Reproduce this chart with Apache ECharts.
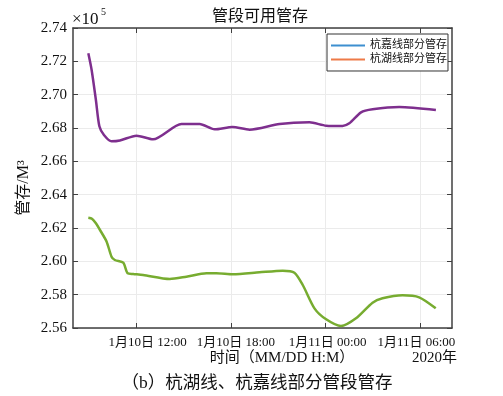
<!DOCTYPE html>
<html>
<head>
<meta charset="utf-8">
<script src="https://cdn.jsdelivr.net/npm/echarts@6/dist/echarts.min.js"></script>
<style>
  html, body { margin: 0; padding: 0; background: #fff; }
  #chart { width: 503px; height: 396px; }
</style>
</head>
<body>
<div id="chart"></div>
<script>
// hours counted from 1/10 00:00, values in 10^5 M3
var upperHours = [8.97, 9.18, 9.45, 9.67, 9.96, 10.44, 10.97, 12.02, 13.07, 14.87, 16.02, 16.97, 18.1, 19.18, 21.08, 22.97, 24.03, 25.07, 25.5, 26.24, 26.97, 28.66, 30.98];
var upperStock = [2.7248, 2.7148, 2.6968, 2.6810, 2.6758, 2.6720, 2.6725, 2.6754, 2.6732, 2.6824, 2.6824, 2.6792, 2.6806, 2.6790, 2.6824, 2.6834, 2.6814, 2.6812, 2.6828, 2.6894, 2.6912, 2.6926, 2.6908];

var lowerHours = [8.97, 9.2, 9.45, 9.71, 10.13, 10.44, 10.65, 11.18, 11.46, 11.81, 12.44, 14.13, 15.18, 16.45, 17.08, 18.13, 19.81, 21.28, 22.02, 22.55, 23.29, 24.03, 24.97, 25.92, 26.97, 27.6, 28.87, 29.92, 30.97];
var lowerStock = [2.6262, 2.6256, 2.6228, 2.6188, 2.6118, 2.6028, 2.6008, 2.5992, 2.5928, 2.5924, 2.5918, 2.5894, 2.5908, 2.5928, 2.5928, 2.5922, 2.5934, 2.5944, 2.5932, 2.5858, 2.5718, 2.5652, 2.5612, 2.5658, 2.5752, 2.5778, 2.5796, 2.5784, 2.5718];

var xTickHours = [12, 18, 24, 30];
var xTickLabels = ['1月10日 12:00', '1月10日 18:00', '1月11日 00:00', '1月11日 06:00'];
var legendNames = ['杭嘉线部分管存', '杭湖线部分管存'];
var legendColors = ['#3d8fd0', '#ee7a48'];

var font = "'Liberation Serif', 'Noto Sans CJK SC', serif";
var axisColor = '#404040';

function pairs(xs, ys) {
  var out = [];
  for (var i = 0; i < xs.length; i++) out.push([xs[i], ys[i]]);
  return out;
}

var chart = echarts.init(document.getElementById('chart'), null, {renderer: 'canvas'});

var labelRich = {};
var labelPads = [[0, 0, 0, 23], [0, 0, 0, 10], [0, 0, 0, 4], [0, 8, 0, 0]];
labelPads.forEach(function(p, i) {
  labelRich['p' + i] = {padding: p, fontFamily: font, fontSize: 13, color: '#111'};
});

var xBase = {
  type: 'value',
  min: 8,
  max: 32,
  axisLine: {show: true, onZero: false, lineStyle: {color: axisColor, width: 1.5}},
  axisTick: {show: true, inside: true, length: 5, customValues: xTickHours, lineStyle: {color: axisColor}},
  axisLabel: {
    show: true,
    customValues: xTickHours,
    margin: 8,
    color: '#111',
    fontFamily: font,
    fontSize: 13,
    rich: labelRich,
    formatter: function(v) {
      var i = xTickHours.indexOf(v);
      return i >= 0 ? '{p' + i + '|' + xTickLabels[i] + '}' : '';
    }
  },
  splitLine: {show: true, lineStyle: {color: '#ebebeb', width: 1}}
};

var yBase = {
  type: 'value',
  min: 2.56,
  max: 2.74,
  interval: 0.02,
  axisLine: {show: true, onZero: false, lineStyle: {color: axisColor, width: 1.5}},
  axisTick: {show: true, inside: true, length: 5, lineStyle: {color: axisColor}},
  axisLabel: {
    color: '#111',
    fontFamily: font,
    fontSize: 15,
    margin: 6,
    formatter: function(v) { return v.toFixed(2); }
  },
  splitLine: {show: true, lineStyle: {color: '#ebebeb', width: 1}}
};

var option = {
  animation: false,
  backgroundColor: '#fff',
  grid: {left: 73, right: 51, top: 28, bottom: 68, containLabel: false},
  xAxis: [
    xBase,
    echarts.util.merge({position: 'top', axisLabel: {show: false}, splitLine: {show: false}}, xBase)
  ],
  yAxis: [
    yBase,
    echarts.util.merge({position: 'right', axisLabel: {show: false}, splitLine: {show: false}}, yBase)
  ],
  legend: {
    data: legendNames,
    orient: 'vertical',
    left: 327,
    top: 34,
    padding: [6, 1, 6, 4],
    icon: 'rect',
    itemWidth: 34,
    itemHeight: 2,
    itemGap: 3,
    borderColor: '#333',
    borderWidth: 1,
    backgroundColor: '#fff',
    itemStyle: {borderWidth: 0},
    lineStyle: {width: 0},
    textStyle: {fontFamily: font, fontSize: 11, color: '#111'}
  },
  series: [
    {
      name: legendNames[0],
      type: 'line',
      data: [],
      symbol: 'none',
      itemStyle: {color: legendColors[0]},
      lineStyle: {color: legendColors[0], width: 1}
    },
    {
      name: legendNames[1],
      type: 'line',
      data: [],
      symbol: 'none',
      itemStyle: {color: legendColors[1]},
      lineStyle: {color: legendColors[1], width: 1}
    },
    {
      name: 'upper',
      type: 'line',
      data: pairs(upperHours, upperStock),
      symbol: 'none',
      smooth: 0.25,
      color: '#7E2F8E',
      lineStyle: {width: 2.5}
    },
    {
      name: 'lower',
      type: 'line',
      data: pairs(lowerHours, lowerStock),
      symbol: 'none',
      smooth: 0.25,
      color: '#77AC30',
      lineStyle: {width: 2.5}
    }
  ],
  graphic: [
    {type: 'text', x: 260, y: 17, style: {text: '管段可用管存', fontFamily: font, fontSize: 16, fill: '#111', textAlign: 'center', textVerticalAlign: 'middle'}},
    {type: 'text', x: 72, y: 20, style: {text: '×10', fontFamily: font, fontSize: 17, fill: '#111', textAlign: 'left', textVerticalAlign: 'middle'}},
    {type: 'text', x: 101, y: 12, style: {text: '5', fontFamily: font, fontSize: 10, fill: '#111', textAlign: 'left', textVerticalAlign: 'middle'}},
    {type: 'text', x: 24, y: 188, rotation: Math.PI / 2, style: {text: '管存/M³', fontFamily: font, fontSize: 16, fill: '#111', textAlign: 'center', textVerticalAlign: 'middle'}},
    {type: 'text', x: 282, y: 358, style: {text: '时间（MM/DD H:M）', fontFamily: font, fontSize: 15, fill: '#111', textAlign: 'center', textVerticalAlign: 'middle'}},
    {type: 'text', x: 457, y: 358, style: {text: '2020年', fontFamily: font, fontSize: 15, fill: '#111', textAlign: 'right', textVerticalAlign: 'middle'}},
    {type: 'text', x: 257, y: 383, style: {text: '（b）杭湖线、杭嘉线部分管段管存', fontFamily: font, fontSize: 17.5, fill: '#111', textAlign: 'center', textVerticalAlign: 'middle'}}
  ]
};

chart.setOption(option);
</script>
</body>
</html>
